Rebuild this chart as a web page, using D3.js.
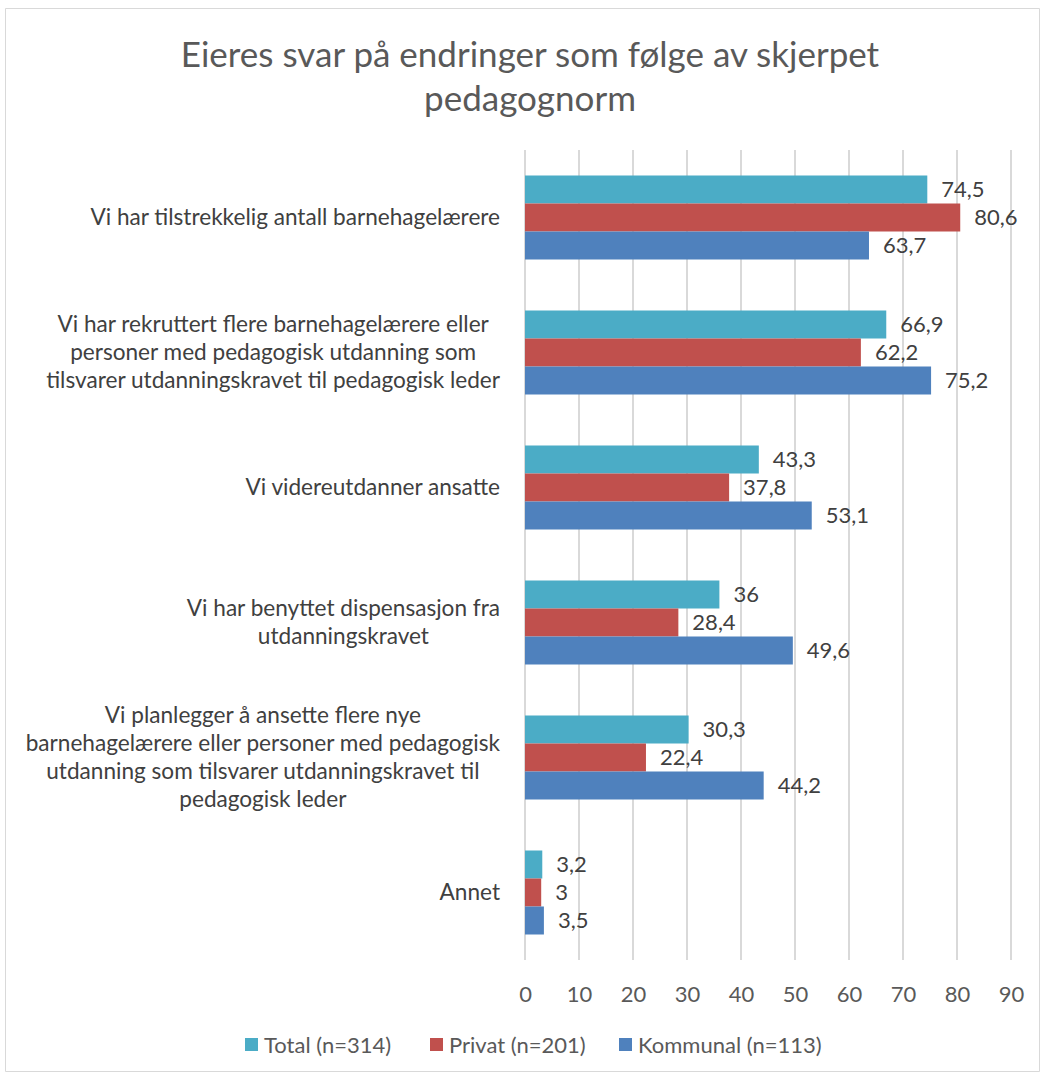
<!DOCTYPE html>
<html>
<head>
<meta charset="utf-8">
<script src="https://cdn.jsdelivr.net/npm/d3@7"></script>
<style>
  body { margin: 0; background: #fff; overflow: hidden; }
  svg { display: block; }
</style>
</head>
<body>
<script>
// Width and height
const w = 1045;
const h = 1075;
const margin = {top: 150, right: 35, bottom: 115, left: 525};
const innerWidth = w - margin.left - margin.right;
const innerHeight = h - margin.top - margin.bottom;

// data
const categories = [
  ["Vi har tilstrekkelig antall barnehagelærere"],
  ["Vi har rekruttert flere barnehagelærere eller", "personer med pedagogisk utdanning som", "tilsvarer utdanningskravet til pedagogisk leder"],
  ["Vi videreutdanner ansatte"],
  ["Vi har benyttet dispensasjon fra", "utdanningskravet"],
  ["Vi planlegger å ansette flere nye", "barnehagelærere eller personer med pedagogisk", "utdanning som tilsvarer utdanningskravet til", "pedagogisk leder"],
  ["Annet"]
];
const series = ["Total (n=314)", "Privat (n=201)", "Kommunal (n=113)"];
const total = [74.5, 66.9, 43.3, 36, 30.3, 3.2];
const privat = [80.6, 62.2, 37.8, 28.4, 22.4, 3];
const kommunal = [63.7, 75.2, 53.1, 49.6, 44.2, 3.5];
const ticks = [0, 10, 20, 30, 40, 50, 60, 70, 80, 90];
const colors = ["#4BACC6", "#C0504D", "#4F81BD"];

const values = [total, privat, kommunal];
const fs = 22;
const mid = fs * 0.35; // baseline shift to centre text vertically
const font = "Lato, 'Open Sans', sans-serif";

const svg = d3.select("body")
  .append("svg")
    .attr("width", w)
    .attr("height", h)
    .attr("font-family", font);

// chart border
svg.append("path")
  .attr("d", `M5.5,8.5H${w - 5.5}V${h - 3.5}H5.5Z`)
  .attr("fill", "none")
  .attr("stroke", "#d9d9d9");

// title
const titleLines = ["Eieres svar på endringer som følge av skjerpet", "pedagognorm"];
svg.selectAll("text.title")
  .data(titleLines)
  .enter().append("text")
    .attr("class", "title")
    .attr("x", 530)
    .attr("y", (d, i) => 67 + i * 44)
    .attr("text-anchor", "middle")
    .attr("font-size", 35)
    .attr("fill", "#595959")
    .text(d => d);

const g = svg.append("g")
  .attr("transform", `translate(${margin.left}, ${margin.top})`);

const xScale = d3.scaleLinear()
  .domain([0, 90])
  .range([0, 486]);

const yScale = d3.scaleBand()
  .domain(d3.range(categories.length))
  .range([0, innerHeight]);

const inner = d3.scaleBand()
  .domain(d3.range(series.length))
  .range([0, 84]);

// gridlines
g.selectAll("line.grid")
  .data(ticks)
  .enter().append("line")
    .attr("class", "grid")
    .attr("x1", d => xScale(d)).attr("x2", d => xScale(d))
    .attr("y1", 0).attr("y2", innerHeight)
    .attr("stroke", "#d9d9d9")
    .attr("stroke-width", 2);

// x axis
const xAxis = d3.axisBottom(xScale)
  .tickValues(ticks)
  .tickSize(0)
  .tickPadding(25);

g.append("g")
  .attr("id", "xaxis")
  .attr("transform", `translate(0, ${innerHeight})`)
  .call(xAxis)
  .call(a => a.select(".domain").remove())
  .selectAll("text")
    .attr("dy", null)
    .attr("y", 26 + fs * 0.71)
    .attr("font-size", fs)
    .attr("font-family", font)
    .attr("fill", "#595959");

// bars
const groups = g.selectAll("g.cat")
  .data(categories)
  .enter().append("g")
    .attr("class", "cat")
    .attr("transform", (d, i) => `translate(0, ${yScale(i) + (yScale.bandwidth() - 84) / 2})`);

groups.each(function(cat, ci) {
  const sel = d3.select(this);
  series.forEach((s, si) => {
    const v = values[si][ci];
    sel.append("rect")
      .attr("x", xScale(0))
      .attr("y", inner(si))
      .attr("width", xScale(v) - xScale(0))
      .attr("height", inner.bandwidth())
      .attr("fill", colors[si]);
    sel.append("text")
      .attr("x", xScale(v) + 14)
      .attr("y", inner(si) + inner.bandwidth() / 2 + mid)
      .attr("font-size", fs)
      .attr("fill", "#404040")
      .text(String(v).replace(".", ","));
  });
});

// category labels (block right aligned, lines centred like Excel)
const cfs = 22.6;
categories.forEach((lines, i) => {
  const y0 = yScale(i) + yScale.bandwidth() / 2 - (lines.length - 1) * 28 / 2 + cfs * 0.35;
  const texts = g.selectAll(null)
    .data(lines)
    .enter().append("text")
      .attr("class", "cat")
      .attr("text-anchor", "middle")
      .attr("font-size", cfs)
      .attr("fill", "#404040")
      .attr("y", (s, j) => y0 + j * 28)
      .text(s => s);
  let maxW = 0;
  texts.each(function() { maxW = Math.max(maxW, this.getComputedTextLength()); });
  texts.attr("x", -25 - maxW / 2);
});

// legend
const legendX = [245, 430, 619];
const legend = svg.selectAll("g.legend")
  .data(series)
  .enter().append("g")
    .attr("class", "legend")
    .attr("transform", (d, i) => `translate(${legendX[i]}, 1045)`);

legend.append("rect")
  .attr("x", 0).attr("y", -7)
  .attr("width", 13).attr("height", 13)
  .attr("fill", (d, i) => colors[i]);

legend.append("text")
  .attr("x", 19).attr("y", mid)
  .attr("font-size", fs)
  .attr("fill", "#595959")
  .text(d => d);
</script>
</body>
</html>
